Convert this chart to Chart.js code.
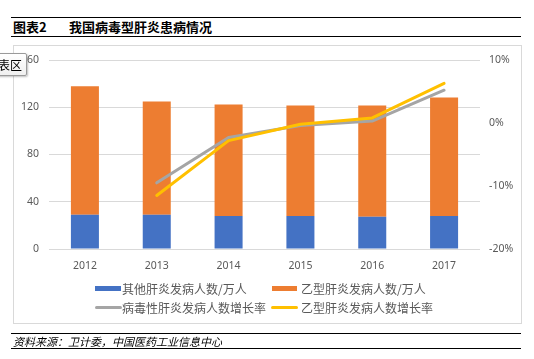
<!DOCTYPE html>
<html>
<head>
<meta charset="utf-8">
<script src="https://cdn.jsdelivr.net/npm/chart.js@4"></script>
<style>
  html, body { margin:0; padding:0; background:#fff; width:534px; height:359px; overflow:hidden; }
  body { position:relative; font-family:"Noto Sans CJK SC", "Noto Sans", sans-serif; }
  .hline { position:absolute; left:11px; width:510px; height:1.4px; background:#000; }
  #box { position:absolute; left:13px; top:45px; width:507px; height:277px; border:1px solid #d9d9d9; }
  #c { position:absolute; left:0; top:0; }
  .title { position:absolute; top:18px; height:18px; line-height:18px; font-size:13px; font-weight:700; color:#000; white-space:nowrap; }
  .leg { position:absolute; height:16px; line-height:16px; font-size:12px; color:#595959; white-space:nowrap; }
  .sw { position:absolute; }
  #src { position:absolute; left:13px; top:333px; height:16px; line-height:16px; font-size:11px; font-style:italic; color:#000; white-space:nowrap; }
  #tip { position:absolute; left:-19px; top:53px; padding:2px 4px; font-size:12px; line-height:17px; color:#000;
         background:linear-gradient(#ffffff,#f0f0f0); border:1px solid #9a9a9a; border-radius:2px;
         box-shadow:1px 1px 2px rgba(0,0,0,0.25); white-space:nowrap; z-index:5; }
</style>
</head>
<body>
<div class="hline" style="top:16.5px"></div>
<div class="title" style="left:13px">图表2</div>
<div class="title" style="left:69px">我国病毒型肝炎患病情况</div>
<div class="hline" style="top:35.5px"></div>
<div id="box"></div>
<canvas id="c" width="534" height="359"></canvas>
<div id="tip">图表区</div>

<div class="sw" style="left:95px;top:286px;width:26px;height:5px;background:#4472c4"></div>
<div class="leg" style="left:122px;top:281px">其他肝炎发病人数/万人</div>
<div class="sw" style="left:272px;top:286px;width:25px;height:5px;background:#ed7d31"></div>
<div class="leg" style="left:301px;top:281px">乙型肝炎发病人数/万人</div>
<div class="sw" style="left:95px;top:306px;width:27px;height:3px;background:#a5a5a5;border-radius:2px"></div>
<div class="leg" style="left:122px;top:300px">病毒性肝炎发病人数增长率</div>
<div class="sw" style="left:271px;top:306px;width:27px;height:3px;background:#ffc000;border-radius:2px"></div>
<div class="leg" style="left:301px;top:300px">乙型肝炎发病人数增长率</div>

<div class="hline" style="top:333px"></div>
<div id="src">资料来源：卫计委，中国医药工业信息中心</div>
<div class="hline" style="top:348px"></div>

<script>
const years = ['2012', '2013', '2014', '2015', '2016', '2017'];
const otherHepatitis = [28.9, 28.9, 28.0, 28.0, 27.2, 28.0];      // 其他肝炎发病人数/万人
const hepatitisB = [108.9, 96.0, 94.4, 93.5, 94.3, 100.3];         // 乙型肝炎发病人数/万人
const viralGrowth = [null, -9.5, -2.3, -0.4, 0.3, 5.2];            // 病毒性肝炎发病人数增长率 (%)
const hepBGrowth = [null, -11.5, -2.8, -0.2, 0.8, 6.3];            // 乙型肝炎发病人数增长率 (%)
const leftTicks = [0, 40, 80, 120, 160];
const rightTicks = [-20, -10, 0, 10];

const tickFont = { family: '"Noto Sans", "Noto Sans CJK SC", sans-serif', size: 10.5 };
const tickColor = '#595959';

new Chart(document.getElementById('c'), {
  data: {
    labels: years,
    datasets: [
      { type: 'line', label: '乙型肝炎发病人数增长率', data: hepBGrowth, yAxisID: 'y1',
        borderColor: '#ffc000', borderWidth: 3, pointRadius: 0, tension: 0,
        borderCapStyle: 'round', borderJoinStyle: 'round', order: 0 },
      { type: 'line', label: '病毒性肝炎发病人数增长率', data: viralGrowth, yAxisID: 'y1',
        borderColor: '#a5a5a5', borderWidth: 3, pointRadius: 0, tension: 0,
        borderCapStyle: 'round', borderJoinStyle: 'round', order: 1 },
      { type: 'bar', label: '其他肝炎发病人数/万人', data: otherHepatitis, yAxisID: 'y',
        backgroundColor: '#4472c4', categoryPercentage: 1, barPercentage: 0.39, order: 2, stack: 's' },
      { type: 'bar', label: '乙型肝炎发病人数/万人', data: hepatitisB, yAxisID: 'y',
        backgroundColor: '#ed7d31', categoryPercentage: 1, barPercentage: 0.39, order: 3, stack: 's' }
    ]
  },
  options: {
    responsive: false,
    animation: false,
    layout: { padding: { top: 60, bottom: 80, left: 0, right: 0 } },
    plugins: { legend: { display: false }, tooltip: { enabled: false } },
    scales: {
      x: {
        stacked: true,
        grid: { display: false },
        border: { display: false },
        ticks: { color: tickColor, font: tickFont, padding: 3, maxRotation: 0 },
        afterFit: s => { s.height = 30; }
      },
      y: {
        position: 'left', stacked: true, min: 0, max: 160,
        afterBuildTicks: s => { s.ticks = leftTicks.map(v => ({ value: v })); },
        grid: { color: '#d9d9d9', lineWidth: 1, drawTicks: false },
        border: { display: false },
        ticks: { color: tickColor, font: tickFont, padding: 10 },
        afterFit: s => { s.width = 49; }
      },
      y1: {
        position: 'right', min: -20, max: 10,
        afterBuildTicks: s => { s.ticks = rightTicks.map(v => ({ value: v })); },
        grid: { display: false, drawTicks: false },
        border: { display: false },
        ticks: { color: tickColor, font: tickFont, padding: 9, callback: v => v + '%' },
        afterFit: s => { s.width = 54; }
      }
    }
  }
});
</script>
</body>
</html>
